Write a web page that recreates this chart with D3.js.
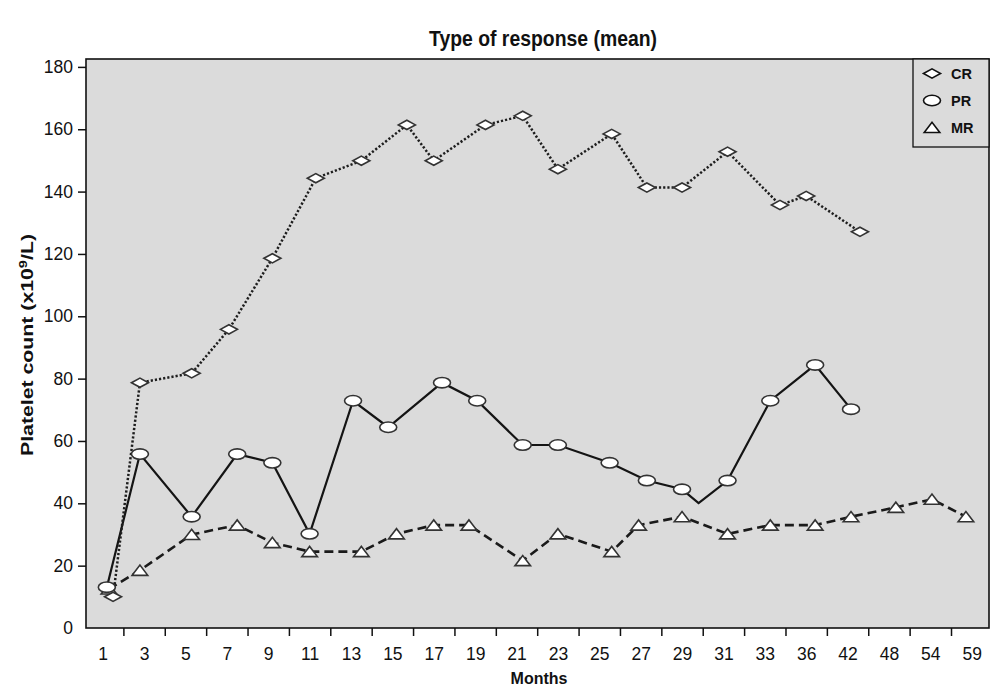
<!DOCTYPE html>
<html>
<head>
<meta charset="utf-8">
<script src="https://cdn.jsdelivr.net/npm/d3@7"></script>
<style>
  body { margin: 0; background: #fff; }
  svg { display: block; }
  text { font-family: "Liberation Sans", Arial, Helvetica, sans-serif; fill: #111; }
</style>
</head>
<body>
<svg id="chart" width="993" height="687"></svg>
<script>
// Month categories shown on the x axis
const monthLabels = [1, 3, 5, 7, 9, 11, 13, 15, 17, 19, 21, 23, 25, 27, 29, 31, 33, 36, 42, 48, 54, 59];
const yTicks = [0, 20, 40, 60, 80, 100, 120, 140, 160, 180];

// Complete response (CR)
const crMonths = [1.5, 2.8, 5.3, 7.1, 9.2, 11.3, 13.5, 15.7, 17.0, 19.5, 21.3, 23.0, 25.6, 27.3, 29.0, 31.2, 34.1, 36.0, 43.8];
const crValues = [10.0, 78.7, 81.7, 95.8, 118.6, 144.3, 149.9, 161.4, 149.9, 161.4, 164.3, 147.2, 158.5, 141.3, 141.3, 152.8, 135.7, 138.6, 127.1];

// Partial response (PR)
const prMonths = [1.2, 2.8, 5.3, 7.5, 9.2, 11.0, 13.1, 14.8, 17.4, 19.1, 21.3, 23.0, 25.5, 27.3, 29.0, 29.8, 31.2, 33.4, 37.3, 42.5];
const prValues = [13.1, 55.8, 35.7, 55.8, 53.0, 30.2, 72.9, 64.4, 78.7, 72.9, 58.7, 58.7, 53.0, 47.3, 44.5, 40.1, 47.3, 72.9, 84.4, 70.2];
const prNoMarker = [15]; // vertex drawn on the line only

// Minor response (MR)
const mrMonths = [1.3, 2.8, 5.3, 7.5, 9.2, 11.0, 13.5, 15.2, 17.0, 18.7, 21.3, 23.0, 25.6, 26.9, 29.0, 31.2, 33.4, 37.3, 42.5, 49.0, 54.2, 58.3];
const mrValues = [12.5, 18.5, 30.0, 33.0, 27.4, 24.5, 24.5, 30.2, 33.0, 33.0, 21.6, 30.2, 24.5, 33.0, 35.7, 30.2, 33.0, 33.0, 35.7, 38.7, 41.3, 35.7];

const seriesNames = ["CR", "PR", "MR"];

const svg = d3.select("#chart");
const plot = { left: 86, right: 989, top: 59, bottom: 628 };

// x: evenly spaced month categories, linear within each gap
const xIndex = d3.scaleLinear().domain([0, monthLabels.length - 1]).range([102.7, 971.7]);
const x = d3.scaleLinear()
  .domain(monthLabels)
  .range(monthLabels.map((_, i) => xIndex(i)));
const y = d3.scaleLinear().domain([0, 180]).range([plot.bottom, 66.9]);

// plot background
svg.append("rect")
  .attr("x", plot.left).attr("y", plot.top)
  .attr("width", plot.right - plot.left).attr("height", plot.bottom - plot.top)
  .attr("fill", "#dbdbdb").attr("stroke", "#111").attr("stroke-width", 1.6);

// y axis
const yAxis = svg.append("g")
  .attr("transform", `translate(${plot.left},0)`)
  .call(d3.axisLeft(y).tickValues(yTicks).tickSize(8).tickPadding(5));
yAxis.select(".domain").remove();
yAxis.selectAll(".tick line").attr("stroke", "#111").attr("stroke-width", 1.5)
  .filter(d => d === 0).remove();
yAxis.selectAll(".tick text").attr("font-size", 17.5).attr("fill", "#111")
  .style("font-family", '"Liberation Sans", Arial, sans-serif');

// x axis: labels on the month categories, tick marks between them
const tickMarks = d3.pairs(monthLabels).map(([a, b]) => (a + b) / 2);
const xLab = svg.append("g")
  .attr("transform", `translate(0,${plot.bottom})`)
  .call(d3.axisBottom(x).tickValues(monthLabels).tickFormat(d3.format("d")).tickSize(0).tickPadding(20));
xLab.select(".domain").remove();
xLab.selectAll(".tick text").attr("font-size", 17.5).attr("fill", "#111")
  .style("font-family", '"Liberation Sans", Arial, sans-serif');

const xTicks = svg.append("g")
  .attr("transform", `translate(0,${plot.bottom})`)
  .call(d3.axisBottom(x).tickValues(tickMarks).tickSize(8).tickFormat(""));
xTicks.select(".domain").remove();
xTicks.selectAll(".tick line").attr("stroke", "#111").attr("stroke-width", 1.5);

// lines
const line = d3.line().x(d => x(d.m)).y(d => y(d.v));
const toPoints = (ms, vs) => ms.map((m, i) => ({ m, v: vs[i], i }));
const crPts = toPoints(crMonths, crValues);
const prPts = toPoints(prMonths, prValues);
const mrPts = toPoints(mrMonths, mrValues);

svg.append("path").datum(mrPts).attr("d", line)
  .attr("fill", "none").attr("stroke", "#1a1a1a").attr("stroke-width", 2.6)
  .attr("stroke-dasharray", "9 5");
svg.append("path").datum(prPts).attr("d", line)
  .attr("fill", "none").attr("stroke", "#141414").attr("stroke-width", 2.2);
svg.append("path").datum(crPts).attr("d", line)
  .attr("fill", "none").attr("stroke", "#1e1e1e").attr("stroke-width", 2.5)
  .attr("stroke-dasharray", "2.2 2");

// marker shapes
const shapes = {
  CR: "M-8.5,0L0,-4.6L8.5,0L0,4.6Z",
  MR: "M-7.8,5L0,-5.2L7.8,5Z"
};
const markerStyle = sel => sel.attr("fill", "#fff").attr("stroke", "#333").attr("stroke-width", 1.6);

svg.append("g").selectAll("path").data(mrPts).join("path")
  .attr("d", shapes.MR)
  .attr("transform", d => `translate(${x(d.m)},${y(d.v)})`)
  .call(markerStyle);
svg.append("g").selectAll("ellipse").data(prPts.filter(d => !prNoMarker.includes(d.i))).join("ellipse")
  .attr("cx", d => x(d.m)).attr("cy", d => y(d.v))
  .attr("rx", 8.5).attr("ry", 5.2)
  .call(markerStyle);
svg.append("g").selectAll("path").data(crPts).join("path")
  .attr("d", shapes.CR)
  .attr("transform", d => `translate(${x(d.m)},${y(d.v)})`)
  .call(markerStyle);

// legend
const legend = svg.append("g");
legend.append("rect")
  .attr("x", 913).attr("y", plot.top).attr("width", plot.right - 913).attr("height", 88)
  .attr("fill", "#dbdbdb").attr("stroke", "#111").attr("stroke-width", 1.3);
seriesNames.forEach((name, i) => {
  const cy = 73.5 + i * 27;
  const g = legend.append("g").attr("transform", `translate(932,${cy})`);
  if (name === "PR") {
    g.append("ellipse").attr("rx", 8.5).attr("ry", 5.2).call(markerStyle).attr("stroke", "#111");
  } else {
    g.append("path").attr("d", shapes[name]).call(markerStyle).attr("stroke", "#111");
  }
  legend.append("text").attr("x", 951).attr("y", cy + 5.5)
    .attr("font-size", 14.5).attr("font-weight", "bold").text(name);
});

// titles
svg.append("text").attr("x", 543).attr("y", 46)
  .attr("text-anchor", "middle").attr("font-size", 22).attr("font-weight", "bold")
  .attr("textLength", 228).attr("lengthAdjust", "spacingAndGlyphs")
  .text("Type of response (mean)");

svg.append("text").attr("x", 539).attr("y", 684)
  .attr("text-anchor", "middle").attr("font-size", 16).attr("font-weight", "bold")
  .text("Months");

const yTitle = svg.append("text")
  .attr("transform", "translate(33,345) rotate(-90)")
  .attr("text-anchor", "middle").attr("font-size", 16).attr("font-weight", "bold")
  .attr("textLength", 222).attr("lengthAdjust", "spacingAndGlyphs");
yTitle.append("tspan").text("Platelet count (x10");
yTitle.append("tspan").attr("font-size", 11).attr("dy", -6).text("9");
yTitle.append("tspan").attr("dy", 6).text("/L)");
</script>
</body>
</html>
